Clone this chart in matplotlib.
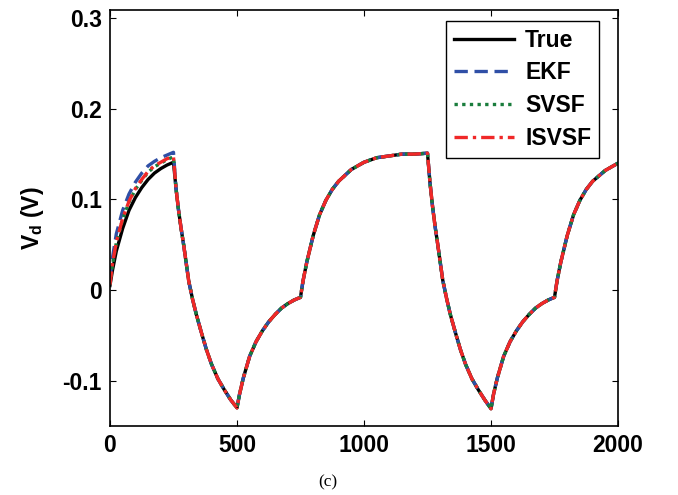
import matplotlib
matplotlib.use('Agg')
from matplotlib import pyplot as plt

plt.rcParams['font.family'] = ['Liberation Sans', 'DejaVu Sans']
plt.rcParams['mathtext.fontset'] = 'custom'
plt.rcParams['mathtext.bf'] = 'Liberation Sans:bold'
plt.rcParams['mathtext.rm'] = 'Liberation Sans:bold'

# sample index
t = [0, 10, 25, 50, 75, 100, 125, 150, 175, 200, 225, 250,
     260, 270, 280, 290, 300, 310, 325, 340, 360, 380, 400, 425, 450, 475, 500,
     510, 525, 550, 575, 600, 625, 650, 675, 700, 725, 750,
     760, 775, 800, 825, 850, 875, 900, 950, 1000, 1050, 1100, 1150, 1200, 1250,
     1260, 1270, 1280, 1290, 1300, 1310, 1325, 1340, 1360, 1380, 1400, 1425, 1450, 1475, 1500,
     1510, 1525, 1550, 1575, 1600, 1625, 1650, 1675, 1700, 1725, 1750,
     1760, 1775, 1800, 1825, 1850, 1875, 1900, 1950, 2000]

# first charge segment (0..250) differs between estimators
true_first = [0.005, 0.022, 0.043, 0.068, 0.088, 0.102, 0.113, 0.122, 0.129, 0.134, 0.138, 0.141]
ekf_first = [0.012, 0.036, 0.062, 0.088, 0.106, 0.119, 0.129, 0.137, 0.142, 0.146, 0.149, 0.152]
svsf_first = [0.006, 0.028, 0.052, 0.078, 0.097, 0.111, 0.121, 0.130, 0.136, 0.140, 0.144, 0.147]
isvsf_first = [0.006, 0.029, 0.053, 0.079, 0.098, 0.112, 0.122, 0.131, 0.137, 0.141, 0.145, 0.147]

# remaining profile, shared by all (estimates converge on true value)
rest = [0.112, 0.088, 0.068, 0.050, 0.030, 0.010, -0.010, -0.027, -0.047, -0.066, -0.082, -0.098, -0.110, -0.121, -0.130,
        -0.115, -0.097, -0.073, -0.057, -0.045, -0.035, -0.027, -0.020, -0.015, -0.011, -0.008,
        0.010, 0.031, 0.060, 0.083, 0.099, 0.111, 0.120, 0.133, 0.141, 0.146, 0.148, 0.150, 0.150, 0.151,
        0.118, 0.092, 0.070, 0.051, 0.031, 0.011, -0.009, -0.027, -0.047, -0.066, -0.082, -0.098, -0.110, -0.121, -0.131,
        -0.115, -0.097, -0.073, -0.057, -0.045, -0.035, -0.027, -0.020, -0.015, -0.011, -0.008,
        0.010, 0.031, 0.060, 0.083, 0.099, 0.111, 0.120, 0.132, 0.140]

v_true = true_first + rest
v_ekf = ekf_first + rest
v_svsf = svsf_first + rest
v_isvsf = isvsf_first + rest

xticks = [0, 500, 1000, 1500, 2000]
yticks = [-0.1, 0, 0.1, 0.2, 0.3]
ytick_labels = ['-0.1', '0', '0.1', '0.2', '0.3']

fig = plt.figure(figsize=(6.78, 4.95), dpi=100)
ax = fig.add_axes([0.1622, 0.1394, 0.7493, 0.8404])

ax.plot(t, v_true, color='black', lw=2.4, ls='-', label='True')
ax.plot(t, v_ekf, color='#2f4fa6', lw=2.4, ls=(0, (4, 2)), label='EKF')
ax.plot(t, v_svsf, color='#1a7d3c', lw=2.4, ls=(0, (1, 1.3)), label='SVSF')
ax.plot(t, v_isvsf, color='#f02828', lw=2.4, ls=(0, (4, 1.5, 1, 1.5)), label='ISVSF')

ax.set_xlim(0, 2000)
ax.set_ylim(-0.15, 0.309)
ax.set_xticks(xticks)
ax.set_xticklabels([str(x) for x in xticks])
ax.set_yticks(yticks)
ax.set_yticklabels(ytick_labels)
ax.tick_params(direction='in', length=4, width=0.8, top=True, right=True,
               labelsize=16.5, pad=6)
for lab in ax.get_xticklabels() + ax.get_yticklabels():
    lab.set_fontweight('bold')
for s in ax.spines.values():
    s.set_linewidth(1.2)

ax.set_ylabel(r'V$_\mathbf{d}$ (V)', fontsize=16.5, fontweight='bold', labelpad=12)

leg = ax.legend(loc='upper right', bbox_to_anchor=(0.963, 0.974), borderaxespad=0,
                fancybox=False, edgecolor='black', framealpha=1,
                prop={'size': 16.5, 'weight': 'bold'}, handlelength=2.6,
                labelspacing=0.42, handletextpad=0.5, borderpad=0.35)
leg.get_frame().set_linewidth(1.0)

fig.text(328 / 678, 1 - 482 / 495, '(c)', family='Liberation Serif', fontsize=12.5,
         ha='center', va='center')

fig.savefig('out.png', dpi=100)
